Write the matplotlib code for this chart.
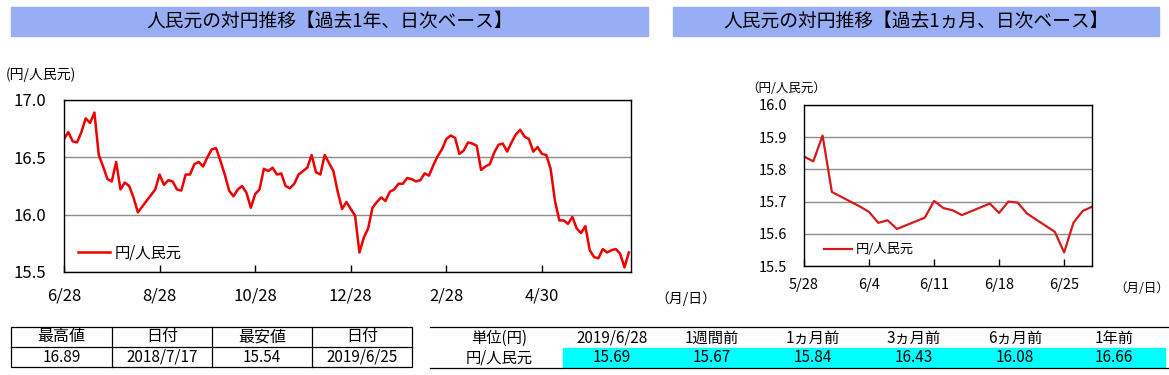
import numpy as np
import pandas as pd
import matplotlib
matplotlib.use("Agg")
import matplotlib.pyplot as plt
from matplotlib.patches import Rectangle
from matplotlib.ticker import FormatStrFormatter

plt.rcParams['font.family'] = ['Noto Sans CJK JP', 'DejaVu Sans']

W, H = 1169, 375

# 過去1年 (2018/6/28 - 2019/6/28, 2営業日ごと)
year_vals = [
    16.66, 16.72, 16.64, 16.63, 16.72, 16.84, 16.80, 16.89, 16.52, 16.42,
    16.31, 16.29, 16.46, 16.22, 16.28, 16.25, 16.15, 16.02, 16.07, 16.12,
    16.17, 16.22, 16.35, 16.26, 16.30, 16.29, 16.22, 16.21, 16.35, 16.35,
    16.44, 16.46, 16.42, 16.50, 16.57, 16.58, 16.47, 16.35, 16.21, 16.16,
    16.22, 16.25, 16.19, 16.06, 16.18, 16.22, 16.40, 16.38, 16.41, 16.35,
    16.36, 16.25, 16.23, 16.27, 16.35, 16.38, 16.41, 16.52, 16.37, 16.35,
    16.52, 16.45, 16.38, 16.20, 16.05, 16.11, 16.05, 15.99, 15.67, 15.80,
    15.88, 16.06, 16.11, 16.15, 16.12, 16.20, 16.22, 16.27, 16.27, 16.32,
    16.31, 16.29, 16.30, 16.36, 16.34, 16.43, 16.51, 16.57, 16.66, 16.69,
    16.67, 16.53, 16.56, 16.63, 16.62, 16.60, 16.39, 16.42, 16.44, 16.54,
    16.61, 16.62, 16.55, 16.63, 16.70, 16.74, 16.68, 16.66, 16.55, 16.59,
    16.53, 16.52, 16.40, 16.12, 15.95, 15.95, 15.92, 15.98, 15.88, 15.84,
    15.90, 15.69, 15.63, 15.62, 15.70, 15.67, 15.69, 15.70, 15.66, 15.54,
    15.67,
]
year_days = np.arange(0, 2 * len(year_vals), 2)
year_ticks = ["6/28", "8/28", "10/28", "12/28", "2/28", "4/30"]
year_tick_days = [0, 44, 88, 132, 176, 220]

# 過去1ヵ月
month_dates = [
    "2019-05-28", "2019-05-29", "2019-05-30", "2019-05-31", "2019-06-03",
    "2019-06-04", "2019-06-05", "2019-06-06", "2019-06-07", "2019-06-10",
    "2019-06-11", "2019-06-12", "2019-06-13", "2019-06-14", "2019-06-17",
    "2019-06-18", "2019-06-19", "2019-06-20", "2019-06-21", "2019-06-24",
    "2019-06-25", "2019-06-26", "2019-06-27", "2019-06-28",
]
month_vals = [
    15.84, 15.825, 15.905, 15.73, 15.685,
    15.668, 15.634, 15.642, 15.615, 15.65,
    15.702, 15.68, 15.673, 15.658, 15.694,
    15.665, 15.70, 15.697, 15.663, 15.606,
    15.542, 15.634, 15.671, 15.684,
]
month_ticks = ["5/28", "6/4", "6/11", "6/18", "6/25"]

hl_head = ["最高値", "日付", "最安値", "日付"]
hl_vals = ["16.89", "2018/7/17", "15.54", "2019/6/25"]

cmp_head = ["単位(円)", "2019/6/28", "1週間前", "1ヵ月前", "3ヵ月前", "6ヵ月前", "1年前"]
cmp_vals = ["円/人民元", "15.69", "15.67", "15.84", "16.43", "16.08", "16.66"]

band = '#97AEF5'

fig = plt.figure(figsize=(11.69, 3.75), dpi=100)

# 背景 (帯・表・注記) をピクセル座標で
bg = fig.add_axes([0, 0, 1, 1])
bg.set_xlim(0, W)
bg.set_ylim(H, 0)
bg.axis('off')

bg.add_patch(Rectangle((11, 7), 637, 29, color=band))
bg.add_patch(Rectangle((673, 7), 486, 29, color=band))
bg.text(330, 21, "人民元の対円推移【過去1年、日次ベース】", ha='center', va='center', fontsize=13.5)
bg.text(916, 21, "人民元の対円推移【過去1ヵ月、日次ベース】", ha='center', va='center', fontsize=13.5)

bg.text(6, 75, "(円/人民元)", ha='left', va='center', fontsize=10)
bg.text(746, 89, "（円/人民元）", ha='left', va='center', fontsize=9)
bg.text(655, 299, "（月/日）", ha='left', va='center', fontsize=10)
bg.text(1114, 288, "（月/日）", ha='left', va='center', fontsize=9)

# 最高値・最安値の表
bg.add_patch(Rectangle((11, 327), 401, 40, fill=False, ec='black', lw=0.9))
bg.plot([11, 412], [347, 347], color='black', lw=0.9)
for xv in [112, 212, 312]:
    bg.plot([xv, xv], [327, 367], color='black', lw=0.9)
for k, (hd, vl) in enumerate(zip(hl_head, hl_vals)):
    cx = [61.5, 162, 262, 362][k]
    bg.text(cx, 337, hd, ha='center', va='center', fontsize=11.5)
    bg.text(cx, 357, vl, ha='center', va='center', fontsize=11)

# 比較表
bg.add_patch(Rectangle((563, 348), 602, 19, color='#00FFFF'))
bg.plot([430, 1169], [327, 327], color='black', lw=0.9)
bg.plot([430, 1169], [368, 368], color='black', lw=0.9)
cols = [499, 612, 712, 813, 914, 1015, 1114]
for cx, hd, vl in zip(cols, cmp_head, cmp_vals):
    bg.text(cx, 338, hd, ha='center', va='center', fontsize=11)
    bg.text(cx, 358, vl, ha='center', va='center', fontsize=11)

# 過去1年
ax1 = fig.add_axes([64 / W, (H - 272) / H, 567 / W, 172 / H])
ax1.plot(year_days, year_vals, color='#EE0000', lw=1.8, label='円/人民元')
ax1.set_xlim(0, 261)
ax1.set_ylim(15.5, 17.0)
ax1.set_yticks([15.5, 16.0, 16.5, 17.0])
ax1.yaxis.set_major_formatter(FormatStrFormatter('%.1f'))
ax1.set_xticks(year_tick_days)
ax1.set_xticklabels(year_ticks)
ax1.tick_params(axis='y', length=0, pad=13, labelsize=12)
ax1.tick_params(axis='x', direction='in', length=5, width=1, pad=11, labelsize=12)
ax1.grid(axis='y', color='#8c8c8c', lw=1)
for s in ax1.spines.values():
    s.set_linewidth(1)
ax1.legend(loc='center left', bbox_to_anchor=(0.025, 0.11), frameon=False,
           fontsize=11, handlelength=2.1, handletextpad=0.3, borderpad=0, borderaxespad=0)

# 過去1ヵ月
month_x = (pd.to_datetime(month_dates) - pd.Timestamp("2019-05-28")).days
ax2 = fig.add_axes([804 / W, (H - 266) / H, 288 / W, 161 / H])
ax2.plot(month_x, month_vals, color='#D41A1A', lw=1.6, label='円/人民元')
ax2.set_xlim(0, 31)
ax2.set_ylim(15.5, 16.0)
ax2.set_yticks([15.5, 15.6, 15.7, 15.8, 15.9, 16.0])
ax2.yaxis.set_major_formatter(FormatStrFormatter('%.1f'))
ax2.set_xticks([0, 7, 14, 21, 28])
ax2.set_xticklabels(month_ticks)
ax2.tick_params(axis='y', length=0, pad=12, labelsize=10.5)
ax2.tick_params(axis='x', direction='in', length=5, width=1, pad=9, labelsize=10.5)
ax2.grid(axis='y', color='#8c8c8c', lw=1)
for s in ax2.spines.values():
    s.set_linewidth(1)
ax2.legend(loc='center left', bbox_to_anchor=(0.07, 0.10), frameon=False,
           fontsize=9.5, handlelength=2.1, handletextpad=0.3, borderpad=0, borderaxespad=0)

fig.savefig("out.png", dpi=100)
